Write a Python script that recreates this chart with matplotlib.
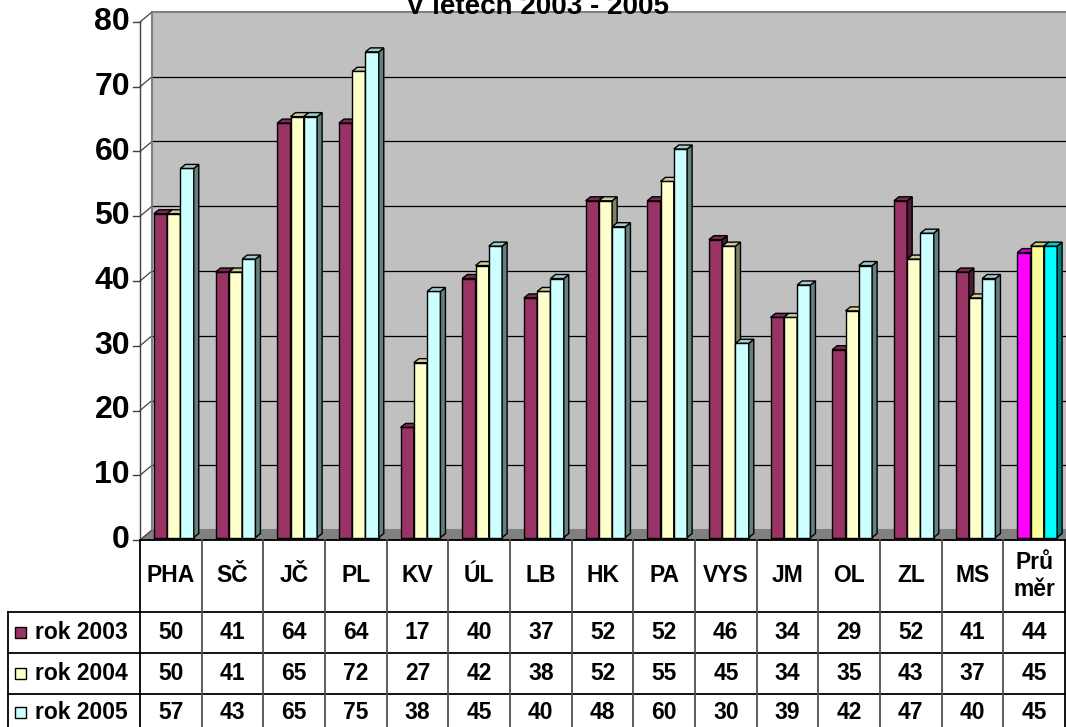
import matplotlib
matplotlib.use("Agg")
import matplotlib.pyplot as plt
from matplotlib.patches import Rectangle, Polygon
from matplotlib.colors import to_rgb
import numpy as np

plt.rcParams['font.family'] = ['Liberation Sans', 'DejaVu Sans']

# ---------------- data ----------------
categories = ["PHA", "SČ", "JČ", "PL", "KV", "ÚL", "LB", "HK", "PA", "VYS", "JM", "OL", "ZL", "MS", "Prů\nměr"]
series_names = ["rok 2003", "rok 2004", "rok 2005"]
rok_2003 = [50, 41, 64, 64, 17, 40, 37, 52, 52, 46, 34, 29, 52, 41, 44]
rok_2004 = [50, 41, 65, 72, 27, 42, 38, 52, 55, 45, 34, 35, 43, 37, 45]
rok_2005 = [57, 43, 65, 75, 38, 45, 40, 48, 60, 30, 39, 42, 47, 40, 45]
series = [rok_2003, rok_2004, rok_2005]
series_colors = ["#993366", "#FFFFCC", "#CCFFFF"]
avg_colors = ["#FF00FF", "#FFFF99", "#00FFFF"]
yticks = [0, 10, 20, 30, 40, 50, 60, 70, 80]
title = "V letech 2003 - 2005"

# ---------------- figure ----------------
W, H = 1066, 727
fig = plt.figure(figsize=(W / 100, H / 100), dpi=100)
fig.patch.set_facecolor("white")

ax_l, ax_r, ax_b, ax_t = 140, 1065, 540, 22  # pixel frame (y from top)
ax = fig.add_axes([ax_l / W, (H - ax_b) / H, (ax_r - ax_l) / W, (ax_b - ax_t) / H])
n = len(categories)
ax.set_xlim(0, n)
ax.set_ylim(0, 80)
ax.axis("off")

# pixel -> data deltas
ux = n / (ax_r - ax_l)
uy = 80 / (ax_b - ax_t)
def d(px, py):
    return px * ux, py * uy

bx, by = d(12, 10)      # back wall depth
fx, fy = d(3, 2.5)      # bar front offset
sx, sy = d(5, 4)        # bar depth

# back wall
ax.add_patch(Polygon([(bx, by), (n + bx, by), (n + bx, 80 + by), (bx, 80 + by)],
                     closed=True, facecolor="#C0C0C0", edgecolor="#808080",
                     lw=1.5, clip_on=False, zorder=1))
# floor
ax.add_patch(Polygon([(0, 0), (n, 0), (n + bx, by), (bx, by)], closed=True,
                     facecolor="#808080", edgecolor="#808080", lw=0.5,
                     clip_on=False, zorder=1.5))
# gridlines
for t in yticks[1:-1]:
    ax.plot([bx, n + bx], [t + by, t + by], color="black", lw=0.9, clip_on=False, zorder=2)
for t in yticks:
    ax.plot([0, bx], [t, t + by], color="#404040", lw=0.9, clip_on=False, zorder=2)
ax.plot([bx, bx], [by, 80 + by], color="#808080", lw=1.2, clip_on=False, zorder=2)
# front axis
ax.plot([0, 0], [0, 80], color="#404040", lw=1.0, clip_on=False, zorder=2)
tick_len = 7 * ux
for t in yticks:
    ax.plot([-tick_len, 0], [t, t], color="#404040", lw=1.0, clip_on=False, zorder=2)
    ax.text(-10 * ux, t, str(t), ha="right", va="center", fontsize=23,
            fontweight="bold", color="black")

def shade(c, f):
    r, g, b = to_rgb(c)
    return (r * f, g * f, b * f)

# bars
w = 13.3 * ux
for i in range(n):
    cols = avg_colors if i == n - 1 else series_colors
    for j, vals in enumerate(series):
        h = vals[i]
        x0 = i + 0.5 + (j - 1.5) * w + fx
        y0 = fy
        c = cols[j]
        z = 3 + j * 0.01
        ax.add_patch(Rectangle((x0, y0), w, h, facecolor=c, edgecolor="black",
                               lw=1.0, zorder=z, clip_on=False))
        ax.add_patch(Polygon([(x0 + w, y0), (x0 + w + sx, y0 + sy),
                              (x0 + w + sx, y0 + h + sy), (x0 + w, y0 + h)],
                             closed=True, facecolor=shade(c, 0.5),
                             edgecolor="black", lw=1.0, zorder=z, clip_on=False))
        ax.add_patch(Polygon([(x0, y0 + h), (x0 + w, y0 + h),
                              (x0 + w + sx, y0 + h + sy), (x0 + sx, y0 + h + sy)],
                             closed=True, facecolor=shade(c, 0.8),
                             edgecolor="black", lw=1.0, zorder=z, clip_on=False))

# title
fig.text(537 / W, (H - 14) / H, title, ha="center", va="baseline",
         fontsize=20, fontweight="bold")

# ---------------- table (figure pixel coords) ----------------
tax = fig.add_axes([0, 0, 1, 1])
tax.set_xlim(0, W)
tax.set_ylim(H, 0)
tax.axis("off")
tax.patch.set_alpha(0)

colw = (ax_r - ax_l) / n
rows_y = [540, 612, 653, 694, 735]
# horizontal lines
tax.plot([ax_l, ax_r], [540, 540], color="black", lw=1.3)
for yy in rows_y[1:4]:
    tax.plot([8, ax_r], [yy, yy], color="black", lw=1.3)
# vertical lines
tax.plot([ax_l, ax_l], [540, H], color="black", lw=1.3)
tax.plot([8, 8], [612, H], color="black", lw=1.3)
for k in range(1, n + 1):
    xx = ax_l + k * colw
    tax.plot([xx, xx], [540, H], color="#505050" if k < n else "black", lw=1.3)

# header
for k, cat in enumerate(categories):
    cx = ax_l + (k + 0.5) * colw
    tax.text(cx, 576, cat, ha="center", va="center", fontsize=16.5,
             fontweight="bold", linespacing=1.2)

# rows
for r, (name, vals) in enumerate(zip(series_names, series)):
    cy = (rows_y[r + 1] + min(rows_y[r + 2], H)) / 2 + (2 if r == 2 else 0)
    tax.add_patch(Rectangle((15, cy - 5.5), 11, 11, facecolor=series_colors[r],
                            edgecolor="black", lw=1.0))
    tax.text(35, cy, name, ha="left", va="center", fontsize=16.5, fontweight="bold")
    for k, v in enumerate(vals):
        cx = ax_l + (k + 0.5) * colw
        tax.text(cx, cy, str(v), ha="center", va="center", fontsize=16.5,
                 fontweight="bold")

fig.savefig("out.png", dpi=100, facecolor="white")
